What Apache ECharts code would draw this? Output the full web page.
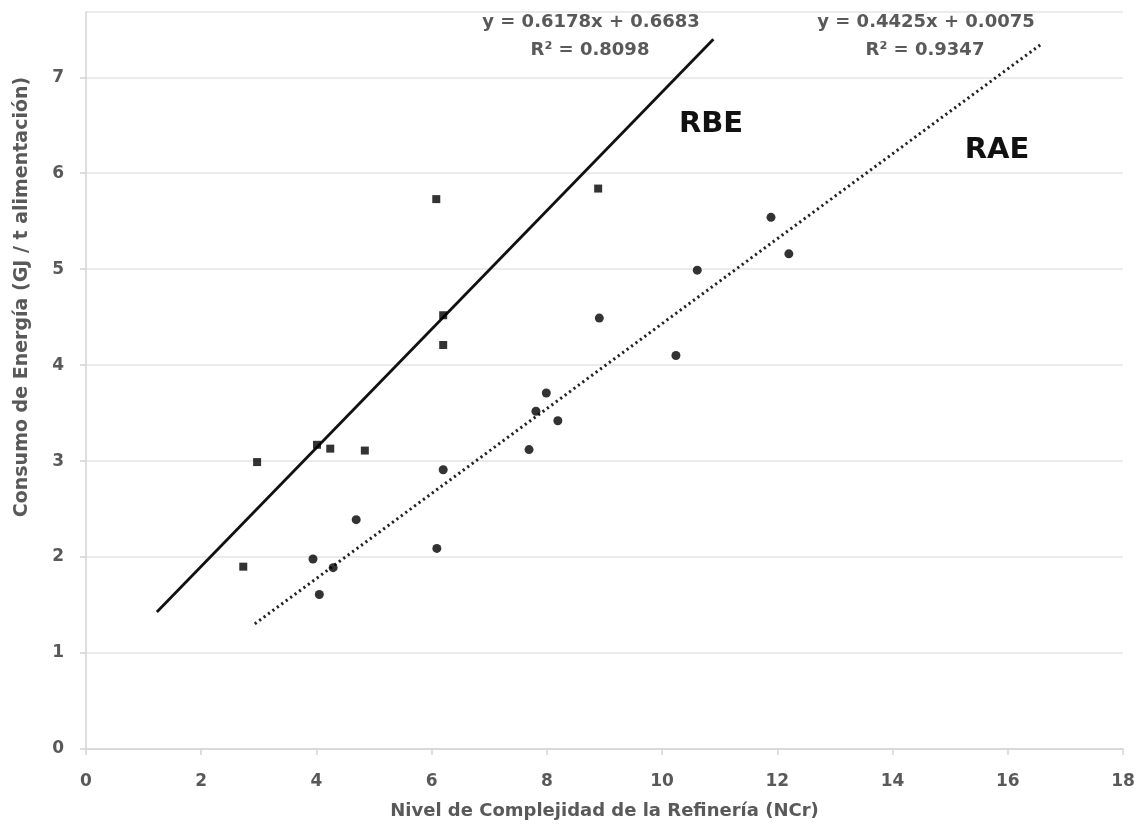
<!DOCTYPE html>
<html>
<head>
<meta charset="utf-8">
<script src="https://cdn.jsdelivr.net/npm/echarts@6/dist/echarts.min.js"></script>
<style>
html,body{margin:0;padding:0;background:#fff;}
#chart{width:1141px;height:825px;}
</style>
</head>
<body>
<div id="chart"></div>
<script>
// RBE points (squares)
var rbeX = [2.73, 2.97, 4.01, 4.24, 4.84, 6.08, 6.20, 6.20, 8.89];
var rbeY = [1.90, 2.99, 3.17, 3.13, 3.11, 5.73, 4.52, 4.21, 5.84];
// RAE points (circles)
var raeX = [3.94, 4.05, 4.29, 4.69, 6.09, 6.20, 7.69, 7.81, 7.99, 8.19, 8.91, 10.24, 10.61, 11.89, 12.20];
var raeY = [1.98, 1.61, 1.89, 2.39, 2.09, 2.91, 3.12, 3.52, 3.71, 3.42, 4.49, 4.10, 4.99, 5.54, 5.16];
// Trend lines: [slope, intercept], x range as drawn
var rbeTrend = [0.6178, 0.6683];
var rbeRange = [1.23, 10.89];
var raeTrend = [0.4425, 0.0075];
var raeRange = [2.93, 16.61];
// Labels
var rbeEq = ['y = 0.6178x + 0.6683', 'R² = 0.8098'];
var raeEq = ['y = 0.4425x + 0.0075', 'R² = 0.9347'];
var xTitle = 'Nivel de Complejidad de la Refinería (NCr)';
var yTitle = 'Consumo de Energía (GJ / t alimentación)';

function pairs(xs, ys){ return xs.map(function(x,i){ return [x, ys[i]]; }); }
function trend(c, r){ return r.map(function(x){ return [x, +(c[0]*x + c[1]).toFixed(4)]; }); }

var gray = '#595959';
var font = 'DejaVu Sans';
var chart = echarts.init(document.getElementById('chart'), null, {renderer:'canvas'});
chart.setOption({
  animation: false,
  backgroundColor: '#fff',
  grid: {left: 86, right: 18, top: 12, bottom: 75},
  xAxis: {
    type: 'value', min: 0, max: 18, interval: 2,
    name: xTitle, nameLocation: 'middle', nameGap: 53,
    nameTextStyle: {fontFamily: font, fontWeight: 'bold', fontSize: 18, color: gray},
    axisLine: {show: true, lineStyle: {color: '#d4d4d4', width: 1.5}},
    axisTick: {show: true, length: 6, lineStyle: {color: '#d4d4d4', width: 1.5}},
    axisLabel: {fontFamily: font, fontWeight: 'bold', fontSize: 17, color: gray, margin: 24},
    splitLine: {show: false}
  },
  yAxis: {
    type: 'value', min: 0, max: 7.68, interval: 1,
    axisLine: {show: true, lineStyle: {color: '#d4d4d4', width: 1.5}},
    axisTick: {show: true, length: 6, lineStyle: {color: '#d4d4d4', width: 1.5}},
    axisLabel: {fontFamily: font, fontWeight: 'bold', fontSize: 17, color: gray, margin: 22,
      showMaxLabel: false,
      formatter: function(v){ return Math.abs(v - Math.round(v)) < 1e-6 ? String(Math.round(v)) : ''; }},
    splitLine: {show: true, lineStyle: {color: '#e4e4e4', width: 1.5}}
  },
  series: [
    {
      name: 'RBE', type: 'line', data: trend(rbeTrend, rbeRange),
      showSymbol: false, symbol: 'none',
      lineStyle: {color: '#111', width: 2.8}, z: 3
    },
    {
      name: 'RAE', type: 'line', data: trend(raeTrend, raeRange),
      showSymbol: false, symbol: 'none',
      lineStyle: {color: '#222', width: 3, type: [2.2, 3.3], cap: 'butt'}, z: 3
    },
    {
      name: 'RBE datos', type: 'scatter', data: pairs(rbeX, rbeY),
      symbol: 'rect', symbolSize: 8, itemStyle: {color: '#000'}, z: 4
    },
    {
      name: 'RAE datos', type: 'scatter', data: pairs(raeX, raeY),
      symbol: 'circle', symbolSize: 9, itemStyle: {color: '#000'}, z: 4
    }
  ],
  graphic: [
    {type: 'text', x: 22, y: 297, rotation: Math.PI/2,
      style: {text: yTitle, font: 'bold 19px "DejaVu Sans"', fill: gray, align: 'center', verticalAlign: 'middle'}},
    {type: 'text', x: 591, y: 22,
      style: {text: rbeEq[0], font: 'bold 18px "DejaVu Sans"', fill: gray, align: 'center', verticalAlign: 'middle'}},
    {type: 'text', x: 590, y: 50,
      style: {text: rbeEq[1], font: 'bold 18px "DejaVu Sans"', fill: gray, align: 'center', verticalAlign: 'middle'}},
    {type: 'text', x: 926, y: 22,
      style: {text: raeEq[0], font: 'bold 18px "DejaVu Sans"', fill: gray, align: 'center', verticalAlign: 'middle'}},
    {type: 'text', x: 925, y: 50,
      style: {text: raeEq[1], font: 'bold 18px "DejaVu Sans"', fill: gray, align: 'center', verticalAlign: 'middle'}},
    {type: 'text', x: 711, y: 124,
      style: {text: 'RBE', font: 'bold 29px "DejaVu Sans"', fill: '#111', align: 'center', verticalAlign: 'middle'}},
    {type: 'text', x: 997, y: 150,
      style: {text: 'RAE', font: 'bold 29px "DejaVu Sans"', fill: '#111', align: 'center', verticalAlign: 'middle'}}
  ]
});
</script>
</body>
</html>
